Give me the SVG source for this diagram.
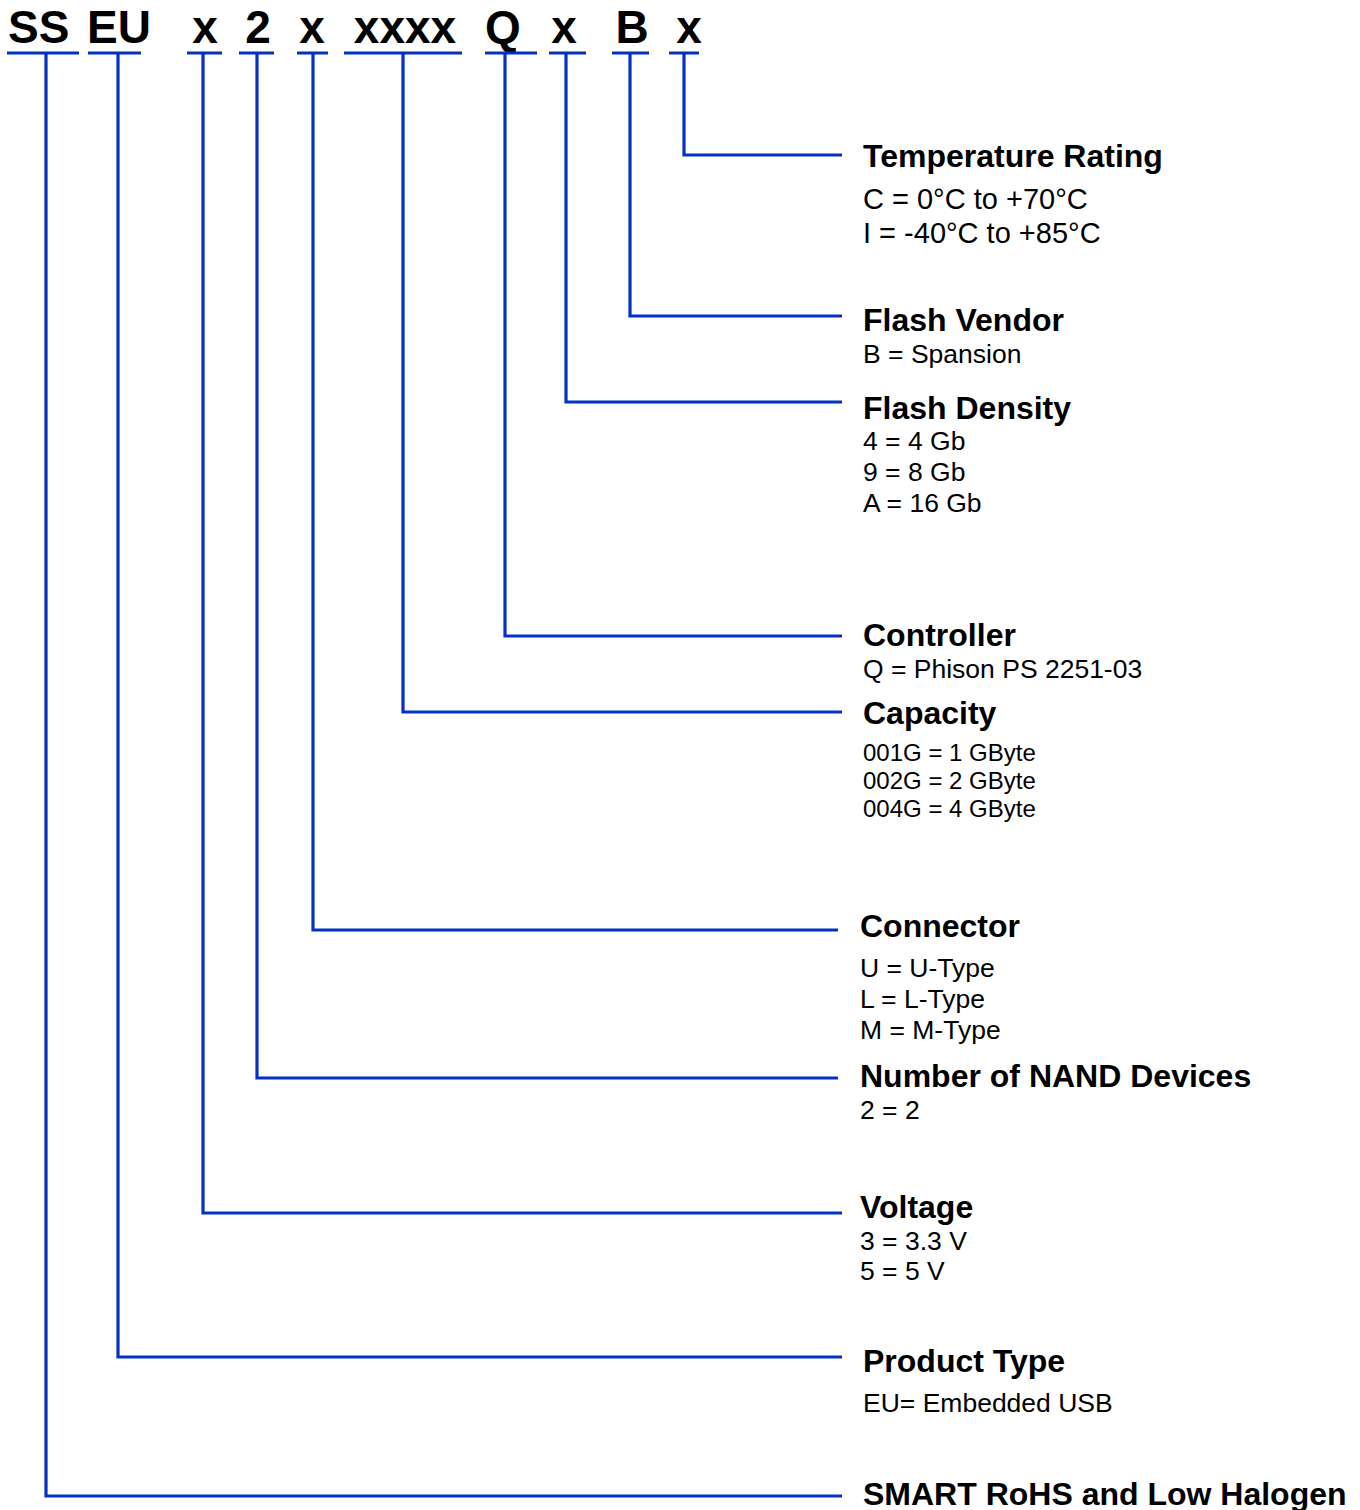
<svg xmlns="http://www.w3.org/2000/svg" width="1360" height="1510" viewBox="0 0 1360 1510">
<style>
.code{font-family:"Liberation Sans",Arial,sans-serif;font-weight:bold;font-size:46px;fill:#000}
.t{font-family:"Liberation Sans",Arial,sans-serif;font-weight:bold;font-size:32px;fill:#000}
.s{font-family:"Liberation Sans",Arial,sans-serif;font-size:26.5px;fill:#000}
.s29{font-size:29px}
.s24{font-size:24px}
.ln{stroke:#0530C4;stroke-width:3.2;fill:none}
</style>
<rect width="1360" height="1510" fill="#fff"/>
<g id="code">
<text class="code" x="8" y="43">SS</text>
<text class="code" x="87" y="43">EU</text>
<text class="code" x="205" y="43" text-anchor="middle">x</text>
<text class="code" x="258" y="43" text-anchor="middle">2</text>
<text class="code" x="312" y="43" text-anchor="middle">x</text>
<text class="code" x="405" y="43" text-anchor="middle">xxxx</text>
<text class="code" x="503" y="43" text-anchor="middle">Q</text>
<text class="code" x="564" y="43" text-anchor="middle">x</text>
<text class="code" x="632" y="43" text-anchor="middle">B</text>
<text class="code" x="689" y="43" text-anchor="middle">x</text>
</g>
<g id="connectors" class="ln">
<path d="M7 53H79M88 53H141M187 53H222M239 53H274M297 53H328M344 53H462M485 53H537M549 53H586M612 53H649M669 53H699"/>
<path d="M684 53V155H842"/>
<path d="M630 53V316H842"/>
<path d="M566 53V402H842"/>
<path d="M505 53V636H842"/>
<path d="M403 53V712H842"/>
<path d="M313 53V930H838"/>
<path d="M257 53V1078H838"/>
<path d="M203 53V1213H842"/>
<path d="M118 53V1357H842"/>
<path d="M46 53V1496H842"/>
</g>
<g id="temperature">
<text class="t" x="863" y="167">Temperature Rating</text>
<text class="s s29" x="863" y="209">C = 0°C to +70°C</text>
<text class="s s29" x="863" y="243">I = -40°C to +85°C</text>
</g>
<g id="vendor">
<text class="t" x="863" y="331">Flash Vendor</text>
<text class="s" x="863" y="363">B = Spansion</text>
</g>
<g id="density">
<text class="t" x="863" y="419">Flash Density</text>
<text class="s" x="863" y="450">4 = 4 Gb</text>
<text class="s" x="863" y="481">9 = 8 Gb</text>
<text class="s" x="863" y="512">A = 16 Gb</text>
</g>
<g id="controller">
<text class="t" x="863" y="646">Controller</text>
<text class="s" x="863" y="678">Q = Phison PS 2251-03</text>
</g>
<g id="capacity">
<text class="t" x="863" y="724">Capacity</text>
<text class="s s24" x="863" y="761">001G = 1 GByte</text>
<text class="s s24" x="863" y="789">002G = 2 GByte</text>
<text class="s s24" x="863" y="817">004G = 4 GByte</text>
</g>
<g id="connector">
<text class="t" x="860" y="937">Connector</text>
<text class="s" x="860" y="977">U = U-Type</text>
<text class="s" x="860" y="1008">L = L-Type</text>
<text class="s" x="860" y="1039">M = M-Type</text>
</g>
<g id="nand">
<text class="t" x="860" y="1087">Number of NAND Devices</text>
<text class="s" x="860" y="1119">2 = 2</text>
</g>
<g id="voltage">
<text class="t" x="860" y="1218">Voltage</text>
<text class="s" x="860" y="1250">3 = 3.3 V</text>
<text class="s" x="860" y="1280">5 = 5 V</text>
</g>
<g id="product">
<text class="t" x="863" y="1372">Product Type</text>
<text class="s" x="863" y="1412">EU= Embedded USB</text>
</g>
<g id="smart">
<text class="t" x="863" y="1505">SMART RoHS and Low Halogen</text>
</g>
</svg>
